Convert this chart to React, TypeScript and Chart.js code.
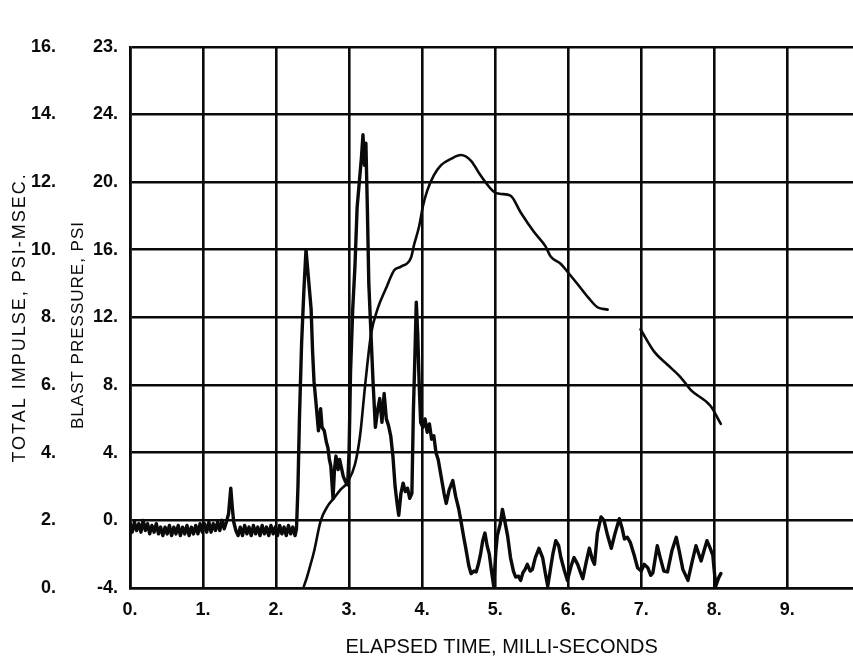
import React, { useEffect, useRef } from "react";
import { Chart, registerables } from "chart.js";

Chart.register(...registerables);

// X axis (elapsed time, ms)
const xTickLabels = ["0.", "1.", "2.", "3.", "4.", "5.", "6.", "7.", "8.", "9."];
// Left inner axis: blast pressure, psi (-4 .. 28)
const pressureTickLabels = ["-4.", "0.", "4.", "8.", "12.", "16.", "20.", "24.", "23."];
// Left outer axis: total impulse, psi-msec (0 .. 16)
const impulseTickLabels = ["0.", "2.", "4.", "6.", "8.", "10.", "12.", "14.", "16."];

// Blast pressure trace: pre-arrival baseline
const baselineTime = [
  0.0, 0.03, 0.06, 0.09, 0.12, 0.15, 0.18, 0.21, 0.24, 0.27,
  0.3, 0.33, 0.36, 0.39, 0.42, 0.45, 0.48, 0.51, 0.54, 0.57,
  0.6, 0.63, 0.66, 0.69, 0.72, 0.75, 0.78, 0.81, 0.84, 0.87,
  0.9, 0.93, 0.96, 0.99, 1.02, 1.05, 1.08, 1.11, 1.14, 1.17,
  1.2, 1.23, 1.26, 1.29, 1.32, 1.35, 1.38, 1.4, 1.42, 1.45,
  1.48, 1.51, 1.54, 1.57, 1.6, 1.63, 1.66, 1.69, 1.72, 1.75,
  1.78, 1.81, 1.84, 1.87, 1.9, 1.93, 1.96, 1.99, 2.02, 2.05,
  2.08, 2.11, 2.14, 2.17, 2.2, 2.23, 2.26, 2.28,
];
const baselineValues = [
  -0.2, -0.7, -0.1, -0.6, -0.2, -0.7, 0.0, -0.6, -0.2, -0.8,
  -0.3, -0.7, -0.2, -0.8, -0.4, -0.9, -0.4, -0.8, -0.3, -0.9,
  -0.4, -0.8, -0.3, -0.9, -0.4, -0.8, -0.3, -0.9, -0.4, -0.8,
  -0.3, -0.8, -0.2, -0.7, -0.2, -0.7, -0.1, -0.7, -0.2, -0.6,
  -0.1, -0.6, 0.0, -0.5, -0.1, 0.4, 1.9, 0.8, -0.1, -0.6,
  -0.9, -0.4, -0.9, -0.3, -0.8, -0.4, -0.9, -0.3, -0.8, -0.4,
  -0.9, -0.3, -0.8, -0.4, -0.9, -0.3, -0.8, -0.4, -0.9, -0.3,
  -0.8, -0.4, -0.9, -0.3, -0.8, -0.4, -0.9, -0.5,
];

// Blast pressure trace: shock arrivals and decay
const pulseTime = [
  2.3, 2.32, 2.35, 2.38, 2.41, 2.43, 2.46, 2.48, 2.5, 2.52,
  2.55, 2.58, 2.61, 2.63, 2.66, 2.69, 2.71, 2.73, 2.75, 2.78,
  2.8, 2.82, 2.85, 2.87, 2.89, 2.92, 2.95, 2.98,
  3.0, 3.02, 3.05, 3.08, 3.11, 3.14, 3.17, 3.19, 3.21, 3.23,
  3.25, 3.27, 3.3, 3.33, 3.36, 3.39, 3.42, 3.45, 3.48, 3.51,
  3.54, 3.57, 3.6, 3.63, 3.66, 3.68, 3.71, 3.74, 3.77, 3.8,
  3.83, 3.86, 3.88, 3.9, 3.92, 3.94, 3.96, 3.98,
  4.01, 4.04, 4.07, 4.1, 4.13, 4.16, 4.19, 4.22, 4.26, 4.3,
  4.33, 4.37, 4.42, 4.46, 4.5, 4.53, 4.57, 4.6, 4.64, 4.67,
  4.71, 4.74, 4.77, 4.8, 4.83, 4.86, 4.89, 4.92, 4.95, 4.98,
  5.01, 5.03, 5.07, 5.1, 5.13, 5.17, 5.21, 5.25, 5.28, 5.32,
  5.35, 5.38, 5.41, 5.44, 5.48, 5.51, 5.55, 5.6, 5.65, 5.69,
  5.72, 5.76, 5.79, 5.83, 5.87, 5.9, 5.95, 5.99, 6.04, 6.08,
  6.13, 6.17, 6.2, 6.25, 6.29, 6.33, 6.36, 6.4, 6.45, 6.49,
  6.54, 6.59, 6.64, 6.7, 6.74, 6.77, 6.81, 6.85, 6.9, 6.95,
  7.0, 7.04, 7.09, 7.13, 7.16, 7.22, 7.26, 7.31, 7.36, 7.42,
  7.48, 7.52, 7.57, 7.64, 7.7, 7.75, 7.82, 7.86, 7.9, 7.94,
  7.98, 8.02, 8.06, 8.09,
];
const pulseValues = [
  2.0, 6.0, 10.5, 13.5, 16.0, 15.0, 13.5, 12.5, 10.0, 8.2,
  6.8, 5.3, 6.6, 5.5, 5.3, 4.6, 4.3, 3.6, 3.2, 1.3,
  3.0, 3.8, 3.0, 3.6, 3.2, 2.6, 2.3, 2.1,
  4.1, 8.8, 12.5, 15.0, 18.5, 20.0, 21.5, 22.8, 21.0, 22.3,
  18.5, 14.0, 11.0, 8.0, 5.5, 6.5, 7.2, 5.8, 7.5, 6.0,
  5.6, 5.0, 3.8, 2.0, 0.9, 0.3, 1.6, 2.2, 1.7, 1.9,
  1.3, 1.6, 6.4, 9.5, 12.9, 11.0, 8.0, 5.8,
  5.5, 6.0, 5.2, 5.7, 4.8, 5.0, 4.0, 3.6, 2.6, 1.6,
  1.0, 1.8, 2.35, 1.4, 0.7, 0.0, -1.0, -1.7, -2.7, -3.15,
  -3.0, -3.05, -2.6, -2.0, -1.2, -0.75, -1.5, -2.0, -3.0, -3.9,
  -1.8, -0.9, -0.2, 0.65, 0.0, -0.9, -2.2, -3.0, -3.35, -3.3,
  -3.55, -3.1, -2.9, -2.6, -3.0, -2.9, -2.2, -1.65, -2.2, -3.2,
  -3.9, -2.8, -2.0, -1.2, -1.5, -2.2, -3.0, -3.55, -2.7, -2.2,
  -2.6, -3.1, -3.45, -2.4, -1.65, -2.3, -2.6, -0.75, 0.2, 0.0,
  -0.9, -1.65, -0.8, 0.1, -0.5, -1.1, -1.0, -1.3, -2.0, -2.8,
  -3.0, -2.6, -2.8, -3.25, -3.1, -1.5, -2.2, -3.0, -3.05, -1.8,
  -1.0, -1.8, -2.9, -3.55, -2.4, -1.5, -2.4, -1.8, -1.2, -1.6,
  -2.05, -3.9, -3.4, -3.15,
];

// Total impulse curve (null = break in the trace)
const impulseTime = [
  2.38, 2.41, 2.46, 2.52, 2.61, 2.7, 2.79, 2.88, 2.98, 3.08,
  3.15, 3.22, 3.3, 3.39, 3.5, 3.62, 3.71, 3.85, 3.89, 3.96,
  4.01, 4.07, 4.16, 4.26, 4.39, 4.53, 4.67, 4.8, 4.99, 5.08,
  5.21, 5.35, 5.53, 5.69, 5.76, 5.9, 5.99, 6.13, 6.27, 6.4,
  6.54, 6.76, 6.99, 7.18, 7.36, 7.54, 7.68, 7.95, 8.09,
];
const impulseValues = [
  0.05, 0.23, 0.6, 1.08, 1.98, 2.4, 2.65, 2.9, 3.13, 3.65,
  4.5, 6.0, 7.5, 8.25, 8.83, 9.4, 9.5, 9.78, 10.15, 10.7,
  11.28, 11.75, 12.2, 12.5, 12.68, 12.8, 12.63, 12.2, 11.7, 11.65,
  11.6, 11.1, 10.53, 10.1, 9.8, 9.58, 9.35, 8.98, 8.6, 8.3,
  8.23, null, 7.65, 6.98, 6.6, 6.23, 5.85, 5.38, 4.85,
];

const xTitle = "ELAPSED TIME, MILLI-SECONDS";
const impulseTitle = "TOTAL IMPULSE, PSI-MSEC.";
const pressureTitle = "BLAST PRESSURE, PSI";

const FONT = "'Liberation Sans', Arial, Helvetica, sans-serif";
const INK = "#0a0a0a";

const titlesPlugin = {
  id: "scanTitles",
  afterDraw(chart: any) {
    const ctx = chart.ctx;
    const area = chart.chartArea;
    ctx.save();
    ctx.fillStyle = INK;
    ctx.textAlign = "center";
    ctx.textBaseline = "middle";
    // x title
    ctx.font = `20px ${FONT}`;
    (ctx as any).letterSpacing = "0px";
    ctx.fillText(xTitle, area.left + (area.right - area.left) * 0.514, 647);
    // impulse title
    ctx.save();
    ctx.translate(20, (area.top + area.bottom) / 2);
    ctx.rotate(-Math.PI / 2);
    ctx.font = `18px ${FONT}`;
    (ctx as any).letterSpacing = "2px";
    ctx.fillText(impulseTitle, 0, 0);
    ctx.restore();
    // pressure title
    ctx.save();
    ctx.translate(78, 325);
    ctx.rotate(-Math.PI / 2);
    ctx.font = `17px ${FONT}`;
    (ctx as any).letterSpacing = "1px";
    ctx.fillText(pressureTitle, 0, 0);
    ctx.restore();
    ctx.restore();
  },
};

export default function App() {
  const canvasRef = useRef<HTMLCanvasElement | null>(null);

  useEffect(() => {
    const canvas = canvasRef.current;
    if (!canvas) return;
    const pressureTime = baselineTime.concat(pulseTime);
    const pressureValues = baselineValues.concat(pulseValues);
    const pressureData = pressureTime.map((t, i) => ({ x: t, y: pressureValues[i] }));
    const impulseData = impulseTime.map((t, i) => ({ x: t, y: impulseValues[i] }));

    const gridStyle = { color: INK, lineWidth: 2.6, drawTicks: false };
    const tickFont = { family: FONT, size: 18, weight: "bold" as const };

    const chart = new Chart(canvas, {
      type: "line",
      data: {
        datasets: [
          {
            label: "Blast pressure",
            data: pressureData,
            yAxisID: "y",
            borderColor: INK,
            borderWidth: 3.4,
            pointRadius: 0,
            tension: 0,
            borderJoinStyle: "round",
            borderCapStyle: "round",
          },
          {
            label: "Total impulse",
            data: impulseData as any,
            yAxisID: "y2",
            borderColor: INK,
            borderWidth: 2.6,
            pointRadius: 0,
            cubicInterpolationMode: "monotone",
            spanGaps: false,
            borderCapStyle: "round",
          },
        ],
      },
      options: {
        animation: false,
        responsive: false,
        devicePixelRatio: 1,
        layout: { padding: { left: 32, top: 18, right: 0, bottom: 0 } },
        plugins: { legend: { display: false }, tooltip: { enabled: false } },
        scales: {
          x: {
            type: "linear",
            min: 0,
            max: 9.9,
            grid: gridStyle,
            border: { display: true, color: INK, width: 2.6 },
            ticks: {
              stepSize: 1,
              includeBounds: false,
              maxRotation: 0,
              autoSkip: false,
              padding: 11,
              color: INK,
              font: tickFont,
              callback: (_v: any, i: number) => xTickLabels[i],
            },
            afterFit: (s: any) => {
              s.height = 75;
            },
          },
          y: {
            type: "linear",
            position: "left",
            weight: 0,
            min: -4,
            max: 28,
            grid: gridStyle,
            border: { display: true, color: INK, width: 2.6 },
            ticks: {
              stepSize: 4,
              padding: 12,
              color: INK,
              font: tickFont,
              callback: (_v: any, i: number) => pressureTickLabels[i],
            },
            afterFit: (s: any) => {
              s.width = 38;
            },
          },
          y2: {
            type: "linear",
            position: "left",
            weight: 1,
            min: 0,
            max: 16,
            grid: { display: false, drawTicks: false },
            border: { display: false },
            ticks: {
              stepSize: 2,
              padding: 36,
              color: INK,
              font: tickFont,
              callback: (_v: any, i: number) => impulseTickLabels[i],
            },
            afterFit: (s: any) => {
              s.width = 60;
            },
          },
        },
      },
      plugins: [titlesPlugin],
    });
    return () => chart.destroy();
  }, []);

  return (
    <div style={{ position: "fixed", left: 0, top: 0, width: 853, height: 663, background: "#fff" }}>
      <canvas ref={canvasRef} width={853} height={663} style={{ display: "block" }} />
    </div>
  );
}
